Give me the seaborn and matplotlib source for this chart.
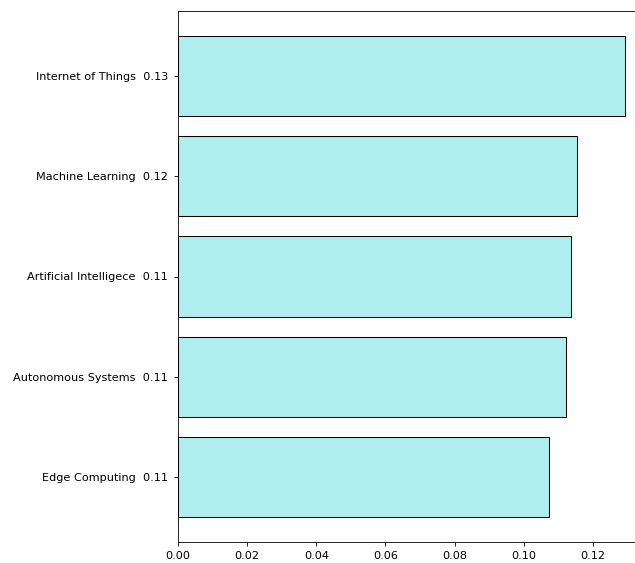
import matplotlib
matplotlib.use("Agg")
import matplotlib.pyplot as plt
import seaborn as sns
import pandas as pd

categories = ["Internet of Things", "Machine Learning", "Artificial Intelligece",
              "Autonomous Systems", "Edge Computing"]
values = [0.1293, 0.1154, 0.1137, 0.1122, 0.1073]
tick_labels = [f"{c}  {v:.2f}" for c, v in zip(categories, values)]
xticks = [0.0, 0.02, 0.04, 0.06, 0.08, 0.10, 0.12]

df = pd.DataFrame({"label": tick_labels, "value": values})

plt.rcParams['font.family'] = ['DejaVu Sans']
fig = plt.figure(figsize=(6.35, 5.63), dpi=100)
ax = fig.add_axes([178/635, 1 - 542/563, 1 - 178/635, (542 - 11)/563])

sns.barplot(data=df, x="value", y="label", orient="h", color="#AFEEEE",
            saturation=1, edgecolor="black", linewidth=0.75, width=0.8, ax=ax)

ax.set_xlim(0, 0.1322)
ax.set_ylim(4.65, -0.65)
ax.set_xlabel("")
ax.set_ylabel("")
ax.set_xticks(xticks)
ax.set_xticklabels([f"{t:.2f}" for t in xticks])
ax.tick_params(axis="both", labelsize=8.1, length=2.6, width=0.6, pad=3.6, colors="black")
ax.tick_params(axis="y", pad=4.6)
ax.spines["right"].set_visible(False)
for s in ["top", "left", "bottom"]:
    ax.spines[s].set_linewidth(0.6)
    ax.spines[s].set_color("black")

fig.savefig("out.png", dpi=100)
